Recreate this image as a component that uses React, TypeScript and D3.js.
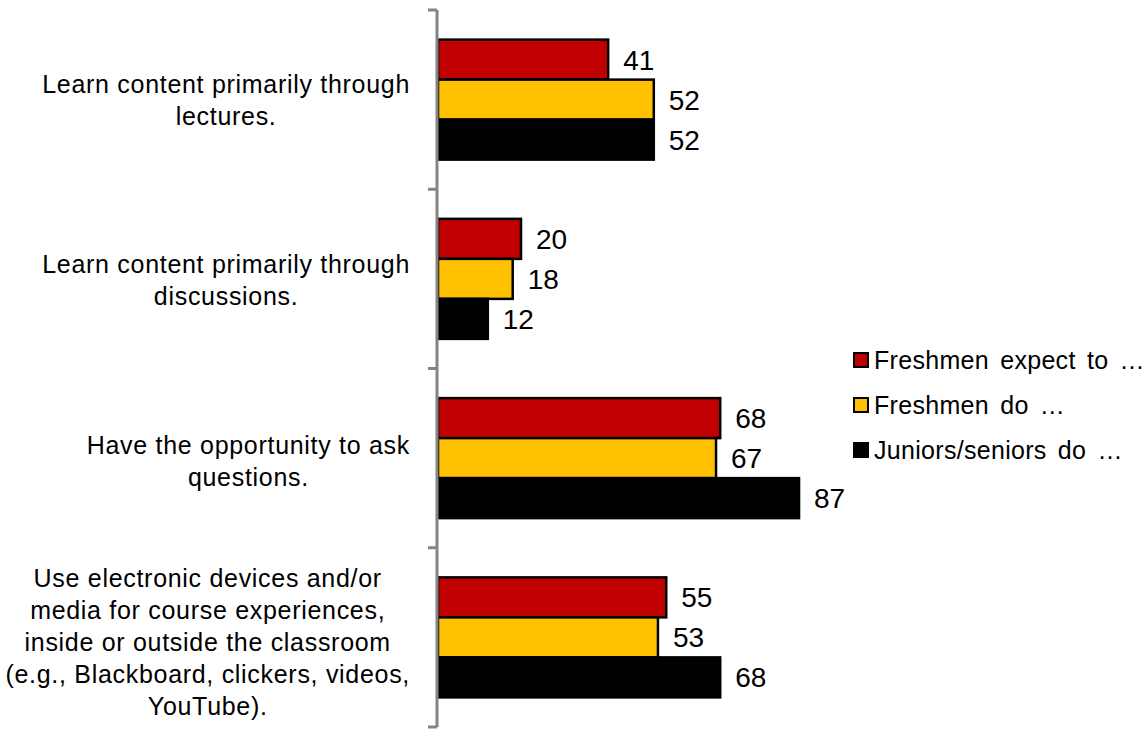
import React, { useEffect, useRef } from "react";
import * as d3 from "d3";

const categories: string[][] = [
  ["Learn content primarily through", "lectures."],
  ["Learn content primarily through", "discussions."],
  ["Have the opportunity to ask", "questions."],
  [
    "Use electronic devices and/or",
    "media for course experiences,",
    "inside or outside the classroom",
    "(e.g., Blackboard, clickers, videos,",
    "YouTube).",
  ],
];
const seriesNames = ["Freshmen expect to …", "Freshmen do …", "Juniors/seniors do …"];
const seriesColors = ["#C00000", "#FFC000", "#000000"];
const freshmenExpect = [41, 20, 68, 55];
const freshmenDo = [52, 18, 67, 53];
const juniorsSeniorsDo = [52, 12, 87, 68];
const seriesValues = [freshmenExpect, freshmenDo, juniorsSeniorsDo];

const FONT = "'Liberation Sans', Arial, Helvetica, sans-serif";

export default function App() {
  const ref = useRef<SVGSVGElement | null>(null);

  useEffect(() => {
    const svg = d3.select(ref.current);
    svg.selectAll("*").remove();

    const catIdx = categories.map((_, i) => String(i));
    const y = d3.scaleBand<string>().domain(catIdx).range([10, 727]).paddingInner(0.3305).paddingOuter(0.16525);
    const ySub = d3.scaleBand<string>().domain(seriesNames).range([0, y.bandwidth()]);
    const x = d3.scaleLinear().domain([0, 100]).range([438, 853]);

    const groups = svg
      .selectAll("g.cat")
      .data(catIdx)
      .join("g")
      .attr("class", "cat")
      .attr("transform", (d) => `translate(0,${y(d)})`);

    groups.each(function (ci) {
      const g = d3.select(this);
      const i = +ci;
      seriesNames.forEach((s, si) => {
        const v = seriesValues[si][i];
        g.append("rect")
          .attr("x", x(0))
          .attr("y", ySub(s)!)
          .attr("width", x(v) - x(0))
          .attr("height", ySub.bandwidth())
          .attr("fill", seriesColors[si])
          .attr("stroke", "#000")
          .attr("stroke-width", 2.5);
      });
      seriesNames.forEach((s, si) => {
        const v = seriesValues[si][i];
        g.append("text")
          .attr("x", x(v) + 15)
          .attr("y", ySub(s)! + ySub.bandwidth() / 2 + 28 * 0.36)
          .attr("font-family", FONT)
          .attr("font-size", 28)
          .attr("fill", "#000")
          .text(v);
      });
    });

    const axisX = 437;
    svg
      .append("line")
      .attr("x1", axisX)
      .attr("x2", axisX)
      .attr("y1", 10)
      .attr("y2", 727)
      .attr("stroke", "#848484")
      .attr("stroke-width", 3);
    const tickYs = [10, ...catIdx.map((c) => y(c)! - (y.step() * y.paddingInner()) / 2 + y.step())];
    tickYs.forEach((ty) => {
      svg
        .append("line")
        .attr("x1", 428)
        .attr("x2", axisX)
        .attr("y1", ty)
        .attr("y2", ty)
        .attr("stroke", "#848484")
        .attr("stroke-width", 3);
    });

    const fs = 25;
    const lineH = 32;
    const rightEdge = 410;
    categories.forEach((lines, i) => {
      const cy = y(String(i))! + y.bandwidth() / 2 + i * 1.5;
      const g = svg.append("g");
      const texts = lines.map((ln, li) =>
        g
          .append("text")
          .attr("font-family", FONT)
          .attr("font-size", fs)
          .attr("letter-spacing", 0.7)
          .attr("text-anchor", "middle")
          .attr("fill", "#000")
          .attr("y", cy + (li - (lines.length - 1) / 2) * lineH + fs * 0.36)
          .text(ln)
      );
      const maxW = d3.max(texts, (t) => (t.node() as SVGTextElement).getComputedTextLength()) || 0;
      texts.forEach((t) => t.attr("x", rightEdge - maxW / 2));
    });

    const legY = [360, 405, 450];
    seriesNames.forEach((s, si) => {
      svg
        .append("rect")
        .attr("x", 854)
        .attr("y", legY[si] - 7)
        .attr("width", 14)
        .attr("height", 14)
        .attr("fill", seriesColors[si])
        .attr("stroke", "#000")
        .attr("stroke-width", 2);
      svg
        .append("text")
        .attr("x", 874)
        .attr("y", legY[si] + 25 * 0.36)
        .attr("font-family", FONT)
        .attr("font-size", 25)
        .attr("letter-spacing", 0.3)
        .attr("word-spacing", 4)
        .attr("fill", "#000")
        .text(s);
    });
  }, []);

  return (
    <svg
      ref={ref}
      width={1144}
      height={731}
      style={{ position: "absolute", left: 0, top: 0, background: "#fff" }}
    />
  );
}
